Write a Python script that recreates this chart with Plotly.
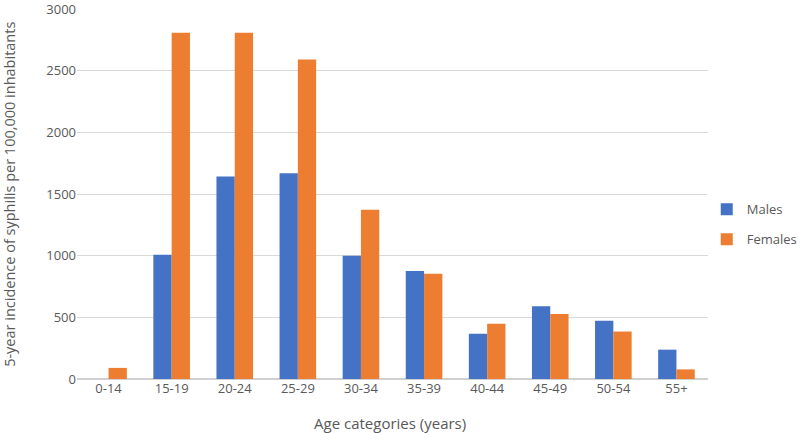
import plotly.graph_objects as go

categories = ["0-14", "15-19", "20-24", "25-29", "30-34", "35-39", "40-44", "45-49", "50-54", "55+"]
males = [0, 1008, 1642, 1669, 1000, 875, 367, 590, 473, 238]
females = [90, 2808, 2808, 2592, 1372, 853, 449, 527, 385, 78]
y_ticks = [0, 500, 1000, 1500, 2000, 2500, 3000]

font_family = "Open Sans, Liberation Sans, sans-serif"
text_color = "#595959"

fig = go.Figure()
fig.add_trace(go.Bar(x=categories, y=males, name="Males", marker_color="#4472C4",
                     marker_line_width=0, legendgroup="m"))
fig.add_trace(go.Bar(x=categories, y=females, name="Females", marker_color="#ED7D31",
                     marker_line_width=0, legendgroup="f"))

fig.update_layout(
    width=800, height=433,
    margin=dict(l=77, r=92, t=9, b=54, autoexpand=False),
    paper_bgcolor="white", plot_bgcolor="white",
    barmode="group", bargap=0.42, bargroupgap=0,
    font=dict(family=font_family, size=13, color=text_color),
    legend=dict(x=0.998, y=0.418, xanchor="left", yanchor="middle",
                font=dict(size=13, color=text_color), itemwidth=30, tracegroupgap=10),
    xaxis=dict(showgrid=False, showline=False, ticks="", tickfont=dict(size=13),
               automargin=False),
    yaxis=dict(range=[0, 3001], tickvals=y_ticks, showgrid=True, gridcolor="#D9D9D9",
               zeroline=True, zerolinecolor="#D0D0D0", zerolinewidth=1.5,
               showline=False, ticks="", tickfont=dict(size=13), automargin=False,
               ticklabeloverflow="allow"),
    annotations=[
        dict(text="Age categories (years)", xref="paper", yref="paper",
             x=0.496, y=-0.118, xanchor="center", yanchor="middle",
             showarrow=False, font=dict(size=15, color=text_color)),
        dict(text="5-year incidence of syphilis per 100,000 inhabitants",
             xref="paper", yref="paper", x=-0.108, y=0.5, textangle=-90,
             xanchor="center", yanchor="middle", showarrow=False,
             font=dict(size=14.5, color=text_color)),
    ],
)

post = ("document.body.style.margin='0';"
        "document.body.style.padding='0';"
        "document.body.style.overflow='hidden';"
        "document.documentElement.style.overflow='hidden';")

fig.write_html("out.html", post_script=post, config={"displayModeBar": False})
